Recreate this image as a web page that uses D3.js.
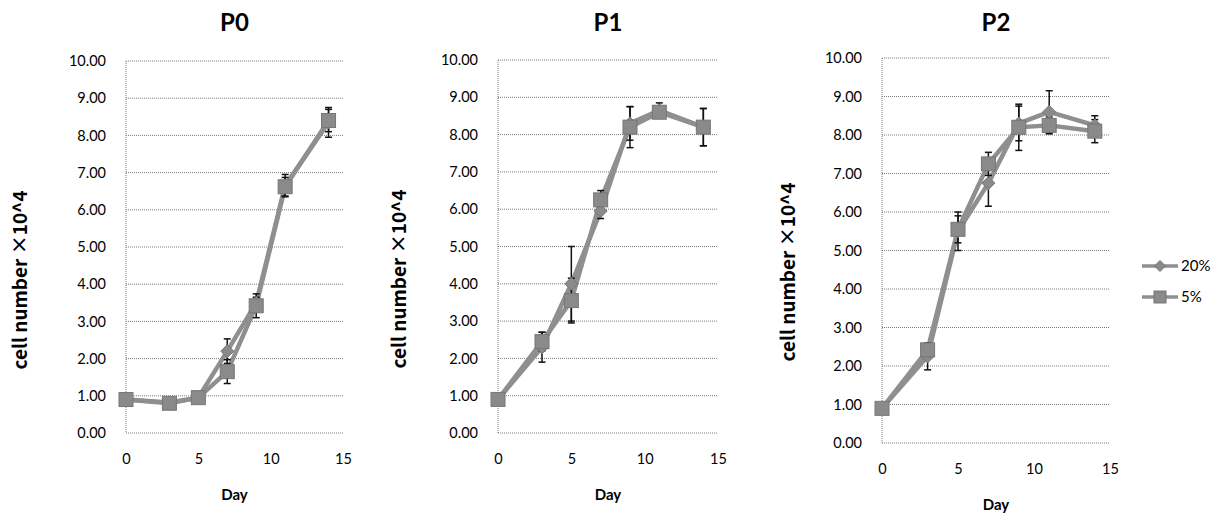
<!DOCTYPE html>
<html>
<head>
<meta charset="utf-8">
<script src="https://cdn.jsdelivr.net/npm/d3@7"></script>
<style>
    body { margin: 0; background: #fff; }
    .tick-label { font-family: Lato, "Open Sans", sans-serif; font-size: 14.5px; fill: #000; }
    .chart-title { font-family: Lato, "Open Sans", sans-serif; font-size: 24px; font-weight: bold; fill: #000; }
    .axis-label { font-family: Lato, "Open Sans", sans-serif; font-size: 15px; font-weight: bold; fill: #000; }
    .y-label { font-family: "Noto Sans CJK JP", sans-serif; font-size: 19px; font-weight: bold; fill: #000; }
    .legend-text { font-family: Lato, "Open Sans", sans-serif; font-size: 15px; fill: #000; }
</style>
</head>
<body>
<div id="chart"></div>
<script>
// days sampled
const days = [0, 3, 5, 7, 9, 11, 14];
const series_names = ["20%", "5%"];
const x_ticks = [0, 5, 10, 15];
const y_ticks = [0, 1, 2, 3, 4, 5, 6, 7, 8, 9, 10];

// P0
const p0_20 = [0.90, 0.82, 0.95, 2.20, 3.50, 6.65, 8.35];
const p0_20_err = [0.05, 0.05, 0.05, 0.33, 0.15, 0.30, 0.40];
const p0_5 = [0.90, 0.80, 0.95, 1.65, 3.42, 6.62, 8.40];
const p0_5_err = [0.05, 0.05, 0.05, 0.32, 0.32, 0.25, 0.30];
// P1
const p1_20 = [0.90, 2.30, 4.00, 5.95, 8.30, 8.65, 8.20];
const p1_20_err = [0.05, 0.40, 1.00, 0.20, 0.45, 0.20, 0.50];
const p1_5 = [0.90, 2.45, 3.55, 6.25, 8.20, 8.60, 8.20];
const p1_5_err = [0.05, 0.25, 0.60, 0.25, 0.55, 0.15, 0.50];
// P2
const p2_20 = [0.90, 2.25, 5.50, 6.75, 8.30, 8.60, 8.25];
const p2_20_err = [0.05, 0.35, 0.50, 0.60, 0.45, 0.55, 0.25];
const p2_5 = [0.90, 2.42, 5.55, 7.25, 8.20, 8.25, 8.10];
const p2_5_err = [0.05, 0.15, 0.35, 0.30, 0.60, 0.22, 0.30];

const line_color = "#8f8f8f";
const marker_fill = "#8a8a8a";
const marker_stroke = "#767676";

const svg = d3.select("#chart")
    .append("svg")
    .attr("width", 1219)
    .attr("height", 514);

const panels = [
    { title: "P0", left: 126, right: 343, top: 61, bottom: 433, ylab_x: 20, ylab_y: 280,
      data: [[p0_20, p0_20_err], [p0_5, p0_5_err]] },
    { title: "P1", left: 498, right: 718, top: 60, bottom: 433, ylab_x: 399, ylab_y: 279,
      data: [[p1_20, p1_20_err], [p1_5, p1_5_err]] },
    { title: "P2", left: 882, right: 1110, top: 58, bottom: 443, ylab_x: 788, ylab_y: 272,
      data: [[p2_20, p2_20_err], [p2_5, p2_5_err]] }
];

function diamond(size)
{
    var h = size / 2;
    return "M0," + (-h) + "L" + h + ",0L0," + h + "L" + (-h) + ",0Z";
}

function draw_panel(p)
{
    var xScale = d3.scaleLinear().domain([0, 15]).range([p.left, p.right]);
    var yScale = d3.scaleLinear().domain([0, 10]).range([p.bottom, p.top]);
    var g = svg.append("g");

    // grid
    g.selectAll(".grid")
        .data(y_ticks)
        .enter().append("line")
        .attr("x1", p.left).attr("x2", p.right)
        .attr("y1", function (d) { return yScale(d); })
        .attr("y2", function (d) { return yScale(d); })
        .attr("stroke", "#7a7a7a")
        .attr("stroke-width", 1)
        .attr("stroke-dasharray", "1,1");

    g.append("line")
        .attr("x1", p.left).attr("x2", p.left)
        .attr("y1", p.top).attr("y2", p.bottom)
        .attr("stroke", "#7a7a7a")
        .attr("stroke-dasharray", "1,1");

    // axes (labels only)
    var yAxis = g.append("g")
        .attr("transform", "translate(" + (p.left - 8) + ",0)")
        .call(d3.axisLeft(yScale).tickValues(y_ticks).tickSize(0).tickPadding(12).tickFormat(d3.format(".2f")));
    yAxis.select(".domain").remove();
    yAxis.selectAll("text").attr("class", "tick-label").attr("font-family", null).attr("font-size", null);

    var xAxis = g.append("g")
        .attr("transform", "translate(0," + (p.bottom + 21) + ")")
        .call(d3.axisBottom(xScale).tickValues(x_ticks).tickSize(0).tickPadding(0));
    xAxis.select(".domain").remove();
    xAxis.selectAll("text").attr("class", "tick-label").attr("font-family", null).attr("font-size", null);

    svg.append("text")
        .attr("class", "chart-title")
        .attr("x", (p.left + p.right) / 2)
        .attr("y", 31)
        .style("text-anchor", "middle")
        .text(p.title);

    svg.append("text")
        .attr("class", "axis-label")
        .attr("x", (p.left + p.right) / 2)
        .attr("y", p.bottom + 67)
        .style("text-anchor", "middle")
        .text("Day");

    svg.append("text")
        .attr("class", "y-label")
        .attr("transform", "translate(" + (p.ylab_x + 7) + "," + p.ylab_y + ") rotate(-90)")
        .style("text-anchor", "middle")
        .text("cell number ×10^4");

    var line = d3.line()
        .x(function (d, i) { return xScale(days[i]); })
        .y(function (d) { return yScale(d); });

    p.data.forEach(function (s) {
        g.append("path")
            .attr("d", line(s[0]))
            .attr("fill", "none")
            .attr("stroke", line_color)
            .attr("stroke-width", 4.5)
            .attr("stroke-linejoin", "round");
    });

    // error bars
    p.data.forEach(function (s) {
        var eb = g.append("g").attr("stroke", "#111").attr("stroke-width", 1.5);
        s[0].forEach(function (v, i) {
            var cx = xScale(days[i]);
            var y1 = yScale(v + s[1][i]), y2 = yScale(v - s[1][i]);
            eb.append("line").attr("x1", cx).attr("x2", cx).attr("y1", y1).attr("y2", y2);
            eb.append("line").attr("x1", cx - 3.5).attr("x2", cx + 3.5).attr("y1", y1).attr("y2", y1);
            eb.append("line").attr("x1", cx - 3.5).attr("x2", cx + 3.5).attr("y1", y2).attr("y2", y2);
        });
    });

    // markers: diamonds for 20%, squares for 5%
    g.append("g").selectAll("path")
        .data(p.data[0][0])
        .enter().append("path")
        .attr("transform", function (d, i) { return "translate(" + xScale(days[i]) + "," + yScale(d) + ")"; })
        .attr("d", diamond(13))
        .attr("fill", marker_fill)
        .attr("stroke", marker_stroke);

    g.append("g").selectAll("rect")
        .data(p.data[1][0])
        .enter().append("rect")
        .attr("x", function (d, i) { return xScale(days[i]) - 7; })
        .attr("y", function (d) { return yScale(d) - 7; })
        .attr("width", 14)
        .attr("height", 14)
        .attr("fill", marker_fill)
        .attr("stroke", marker_stroke);
}

panels.forEach(draw_panel);

function legend()
{
    var lg = svg.append("g");
    series_names.forEach(function (name, i) {
        var y = 266 + 31 * i;
        lg.append("line")
            .attr("x1", 1142).attr("x2", 1178)
            .attr("y1", y).attr("y2", y)
            .attr("stroke", line_color)
            .attr("stroke-width", 3.5);
        if (i === 0) {
            lg.append("path")
                .attr("transform", "translate(1160," + y + ")")
                .attr("d", diamond(11))
                .attr("fill", marker_fill)
                .attr("stroke", marker_stroke);
        } else {
            lg.append("rect")
                .attr("x", 1154).attr("y", y - 6)
                .attr("width", 12).attr("height", 12)
                .attr("fill", marker_fill)
                .attr("stroke", marker_stroke);
        }
        lg.append("text")
            .attr("class", "legend-text")
            .attr("x", 1181)
            .attr("y", y)
            .attr("dy", "0.35em")
            .text(name);
    });
}

legend();
</script>
</body>
</html>
